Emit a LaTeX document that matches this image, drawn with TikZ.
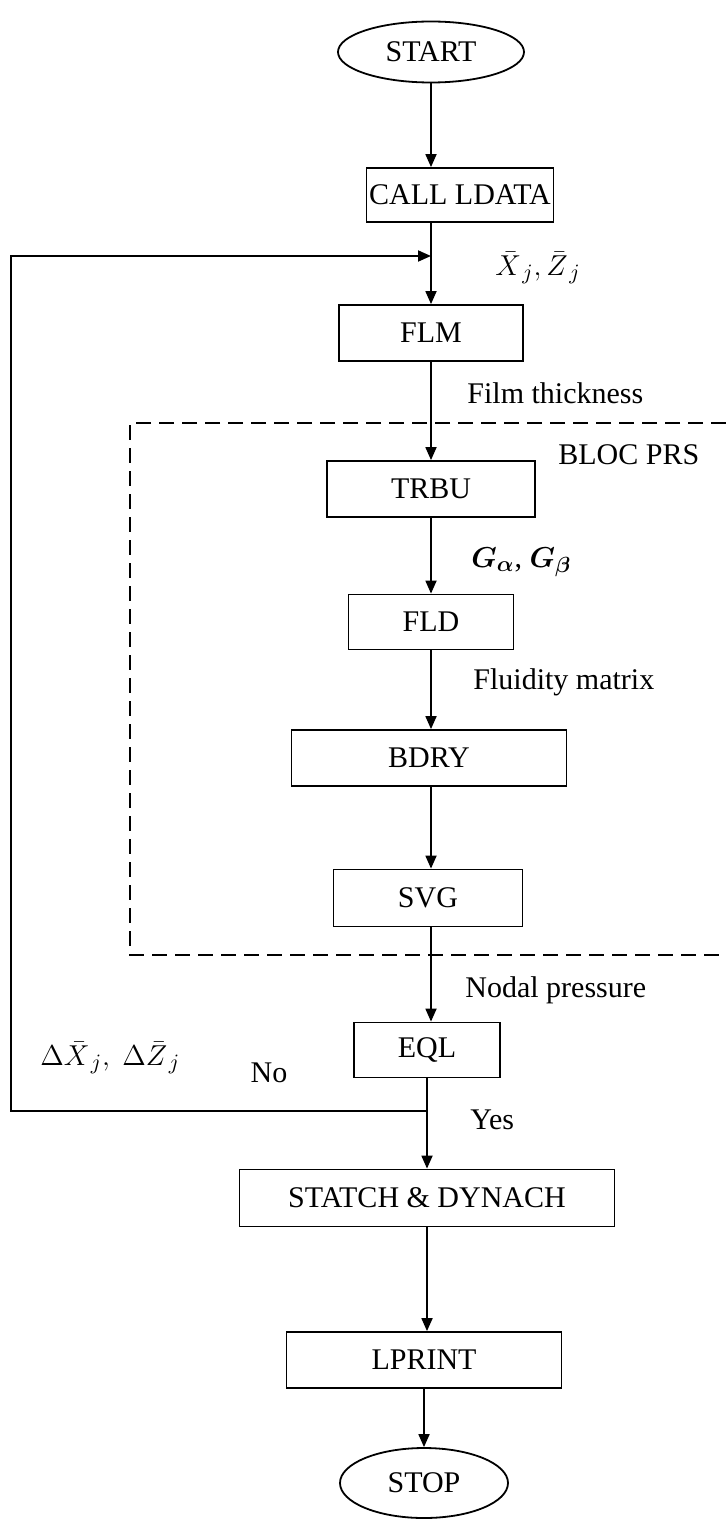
\documentclass[tikz,border=0pt]{standalone}
\usepackage{amsmath}
\usepackage{fontspec}
\setmainfont{Liberation Serif}
\usetikzlibrary{shapes.geometric,arrows.meta}
\begin{document}
\begin{tikzpicture}[x=0.5pt,y=-0.5pt,
  every node/.style={font=\fontsize{15}{17}\selectfont},
  proc/.style={draw, line width=0.9pt, inner sep=0pt, align=center},
  term/.style={draw, ellipse, line width=0.9pt, inner sep=0pt},
  lbl/.style={inner sep=0pt},
  flow/.style={-{Triangle[length=6.5pt,width=5.5pt]}, line width=0.9pt},
  dashbox/.style={line width=0.9pt, dash pattern=on 7.5pt off 4pt}]
\useasboundingbox (0,0) rectangle (726,1520);

% nodes
\node[term, minimum width=93pt, minimum height=30.5pt] (start) at (431,52) {START};
\node[proc, minimum width=93.5pt, minimum height=27pt] (ldata) at (460,195) {CALL LDATA};
\node[proc, minimum width=92pt, minimum height=28pt] (flm) at (431,333) {FLM};
\node[proc, minimum width=104pt, minimum height=28pt] (trbu) at (431,489) {TRBU};
\node[proc, minimum width=82.5pt, minimum height=27.5pt] (fld) at (431,622) {FLD};
\node[proc, minimum width=137.5pt, minimum height=28pt] (bdry) at (429,758) {BDRY};
\node[proc, minimum width=94.5pt, minimum height=28.5pt] (svg) at (428,898) {SVG};
\node[proc, minimum width=73pt, minimum height=27.5pt] (eql) at (427,1050) {EQL};
\node[proc, minimum width=187.5pt, minimum height=28.5pt] (statch) at (427,1198) {STATCH \& DYNACH};
\node[proc, minimum width=137.5pt, minimum height=28pt] (lprint) at (424,1360) {LPRINT};
\node[term, minimum width=84pt, minimum height=35pt] (stop) at (424,1483) {STOP};

% labels
\node[lbl] (xz) at (538,268) {$\bar{X}_{\,j},\bar{Z}_{\,j}$};
\node[lbl, anchor=west] (film) at (467,393) {Film thickness};
\node[lbl, anchor=west] (bloc) at (558,455) {BLOC PRS};
\node[lbl, anchor=west] (gab) at (471,562) {$\boldsymbol{G_{\alpha}}$, $\boldsymbol{G_{\beta}}$};
\node[lbl, anchor=west] (fluid) at (473,682) {Fluidity matrix};
\node[lbl, anchor=west] (nodal) at (465,990) {Nodal pressure};
\node[lbl, anchor=west] (dxz) at (40,1058) {$\Delta\bar{X}_{\,j},\ \Delta\bar{Z}_{\,j}$};
\node[lbl] (no) at (269,1073) {No};
\node[lbl, anchor=west] (yes) at (470,1120) {Yes};

% dashed block (open on the right)
\draw[dashbox] (726,423) -- (130,423) -- (130,955) -- (726,955);

% junctions
\coordinate (j1) at (flm.north |- 0,256);
\coordinate (j2) at (eql.south |- 0,1111);
\coordinate (cl) at (11,1111);
\coordinate (cu) at (11,256);

% connectors
\draw[flow] (start.south) -- (start.south |- ldata.north);
\draw[flow] (flm.north |- ldata.south) -- (flm.north);
\draw[flow] (flm.south) -- (flm.south |- trbu.north);
\draw[flow] (trbu.south) -- (trbu.south |- fld.north);
\draw[flow] (fld.south) -- (fld.south |- bdry.north);
\draw[flow] (fld.south |- bdry.south) -- (fld.south |- svg.north);
\draw[flow] (fld.south |- svg.south) -- (fld.south |- eql.north);
\draw[flow] (eql.south) -- (eql.south |- statch.north);
\draw[flow] (eql.south |- statch.south) -- (eql.south |- lprint.north);
\draw[flow] (stop.north |- lprint.south) -- (stop.north);
\draw[flow] (j2) -- (cl) -- (cu) -- (j1);
\end{tikzpicture}
\end{document}
